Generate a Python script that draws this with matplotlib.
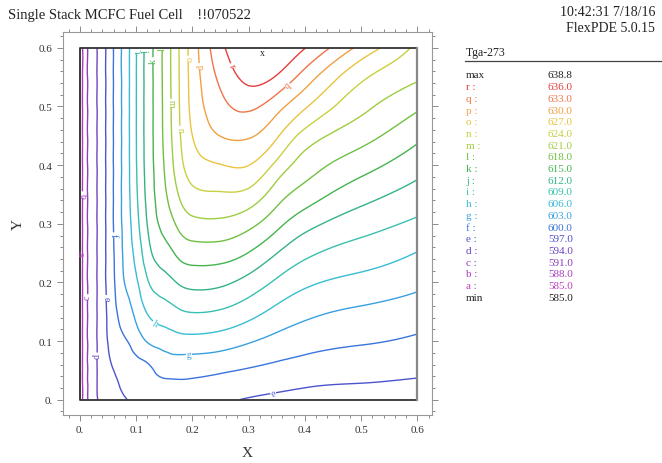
import numpy as np
import matplotlib
matplotlib.use("Agg")
import matplotlib.pyplot as plt
import matplotlib.tri as mtri
from matplotlib.lines import Line2D
from matplotlib.ticker import MultipleLocator, FuncFormatter

plt.rcParams['font.family'] = ['Liberation Serif', 'DejaVu Serif']

# grid nodes (m) and Tga-273 values, rows = y, cols = x
x_nodes = [0.0, 0.005, 0.015, 0.03, 0.045, 0.06, 0.08, 0.1, 0.125, 0.15,
           0.175, 0.2, 0.25, 0.3, 0.35, 0.4, 0.5, 0.6]
y_nodes = [0.0, 0.03, 0.06, 0.1, 0.15, 0.2, 0.25, 0.3, 0.35, 0.4, 0.45,
           0.5, 0.55, 0.6]
tga = [
    [584.8, 588.2, 591.2, 593.8, 595.0, 595.8, 596.8, 597.7, 598.6, 598.9, 599.0, 598.8, 597.6, 596.8, 596.3, 595.9, 595.2, 594.5],
    [584.8, 588.2, 591.2, 593.9, 595.5, 596.4, 597.8, 598.5, 599.3, 599.7, 599.8, 599.7, 599.1, 598.5, 598.0, 597.5, 597.1, 596.6],
    [584.8, 588.2, 591.2, 593.9, 596.0, 597.3, 598.6, 599.2, 600.1, 601.4, 601.6, 601.5, 601.1, 600.4, 599.7, 599.1, 598.5, 598.0],
    [584.8, 588.2, 591.2, 593.9, 596.4, 598.3, 599.7, 601.4, 603.5, 604.3, 604.9, 605.0, 604.5, 603.3, 602.1, 601.2, 600.3, 599.5],
    [584.8, 588.2, 591.2, 593.9, 596.6, 599.1, 601.5, 603.8, 606.6, 607.6, 608.6, 609.1, 608.7, 607.2, 605.2, 603.8, 602.5, 601.6],
    [584.8, 588.2, 591.2, 593.9, 596.8, 599.6, 603.1, 605.5, 609.3, 610.8, 612.2, 612.9, 612.6, 610.9, 608.5, 606.6, 605.1, 603.7],
    [584.8, 588.2, 591.2, 593.9, 596.8, 599.85, 603.7, 606.9, 611.6, 613.7, 615.6, 616.5, 616.4, 614.9, 612.05, 609.7, 607.6, 605.9],
    [584.8, 588.2, 591.2, 593.9, 596.8, 600.1, 604.0, 607.9, 613.0, 616.0, 618.6, 620.1, 620.3, 618.9, 615.9, 613.1, 610.3, 608.4],
    [584.8, 588.2, 591.2, 593.9, 596.8, 600.1, 604.2, 608.5, 613.7, 617.4, 621.0, 623.2, 623.7, 623.1, 619.4, 616.7, 613.2, 610.8],
    [584.8, 588.2, 591.2, 593.9, 596.8, 600.1, 604.2, 608.8, 614.0, 618.1, 622.6, 625.5, 626.9, 627.05, 623.2, 619.6, 616.2, 613.2],
    [584.8, 588.2, 591.2, 593.9, 596.8, 600.1, 604.2, 608.9, 614.1, 618.5, 623.3, 627.0, 630.05, 630.3, 627.4, 622.9, 619.1, 615.7],
    [584.8, 588.2, 591.2, 593.9, 596.8, 600.1, 604.2, 608.9, 614.1, 618.6, 623.6, 627.8, 632.1, 633.6, 631.1, 627.4, 621.8, 618.5],
    [584.8, 588.2, 591.2, 593.9, 596.8, 600.1, 604.2, 608.9, 614.1, 618.7, 623.7, 628.1, 633.7, 636.8, 635.7, 631.7, 624.6, 621.4],
    [584.8, 588.2, 591.2, 593.9, 596.8, 600.1, 604.2, 608.9, 614.1, 618.7, 623.8, 628.3, 635.2, 638.6, 638.7, 636.1, 629.1, 623.3],
]

level_names = ['a', 'b', 'c', 'd', 'e', 'f', 'g', 'h', 'i', 'j', 'k', 'l',
               'm', 'n', 'o', 'p', 'q', 'r']
level_values = [585.0, 588.0, 591.0, 594.0, 597.0, 600.0, 603.0, 606.0,
                609.0, 612.0, 615.0, 618.0, 621.0, 624.0, 627.0, 630.0,
                633.0, 636.0]
level_colors = ['#c040c0', '#a840c0', '#8c40c0', '#6c44c0', '#4c54cc',
                '#3a74dc', '#38a0e0', '#38bcd4', '#38c0b0', '#34b484',
                '#44b450', '#70c040', '#a0cc40', '#c8d040', '#e8c440',
                '#f0a040', '#f07448', '#e83c3c']
t_max = 638.8
t_min = 585.0

fig = plt.figure(figsize=(6.62, 4.64), dpi=100)
ax = fig.add_axes([63 / 662, 1 - 416 / 464, 369 / 662, 383 / 464])

# triangulate the node grid, then smooth with matplotlib's refiner
X, Y = np.meshgrid(x_nodes, y_nodes)
Z = np.array(tga)
nx, ny = len(x_nodes), len(y_nodes)
tris = []
for j in range(ny - 1):
    for i in range(nx - 1):
        p = j * nx + i
        tris.append([p, p + 1, p + nx + 1])
        tris.append([p, p + nx + 1, p + nx])
tri = mtri.Triangulation(X.ravel(), Y.ravel(), np.array(tris))
refiner = mtri.UniformTriRefiner(tri)
tri_f, z_f = refiner.refine_field(Z.ravel(), subdiv=3)

cs = ax.tricontour(tri_f, z_f, levels=level_values, colors=level_colors,
                   linewidths=1.0)
ax.clabel(cs, fmt=dict(zip(level_values, level_names)), fontsize=7,
          inline=True, inline_spacing=1)

k = np.argmax(z_f)
ax.text(tri_f.x[k], tri_f.y[k], 'x', ha='center', va='top', fontsize=7,
        color='#222222')

# domain outline
x0, x1 = x_nodes[0], x_nodes[-1]
y0, y1 = y_nodes[0], y_nodes[-1]
ax.plot([x1, x0, x0, x1], [y1, y1, y0, y0], color='#333333', lw=1.3)
ax.plot([x1, x1], [y0, y1], color='#888888', lw=1.6)

ax.set_xlim(-0.030, 0.626)
ax.set_ylim(-0.026, 0.627)
ax.xaxis.set_major_locator(MultipleLocator(0.1))
ax.yaxis.set_major_locator(MultipleLocator(0.1))
ax.xaxis.set_minor_locator(MultipleLocator(0.02))
ax.yaxis.set_minor_locator(MultipleLocator(0.02))
fmt = FuncFormatter(lambda v, pos: '0.' if abs(v) < 1e-9 else '%.1f' % v)
ax.xaxis.set_major_formatter(fmt)
ax.yaxis.set_major_formatter(fmt)
ax.tick_params(which='both', direction='out', top=True, right=True,
               colors='#777777', labelcolor='#333333', labelsize=8, width=0.6)
ax.tick_params(which='major', length=4)
ax.tick_params(which='minor', length=2)
for s in ax.spines.values():
    s.set_color('#999999')
    s.set_linewidth(0.8)
ax.set_xlabel('X', fontsize=11, labelpad=8, color='#333333')
ax.set_ylabel('Y', fontsize=11, labelpad=10, color='#333333')

# header texts
fig.text(8 / 662, 1 - 16 / 464, 'Single Stack MCFC Fuel Cell    !!070522',
         fontsize=10.5, va='center', ha='left', color='#222222')
fig.text(655 / 662, 1 - 13 / 464, '10:42:31 7/18/16', fontsize=10,
         va='center', ha='right', color='#222222')
fig.text(655 / 662, 1 - 28 / 464, 'FlexPDE 5.0.15', fontsize=10,
         va='center', ha='right', color='#222222')

# level legend
fig.text(466 / 662, 1 - 53 / 464, 'Tga-273', fontsize=8.5, va='center',
         color='#222222')
fig.add_artist(Line2D([465 / 662, 1.0], [1 - 62 / 464] * 2, color='#444444',
                      lw=0.9))
rows = [('max', t_max, '#222222')]
for name, val, col in zip(level_names[::-1], level_values[::-1],
                          level_colors[::-1]):
    rows.append((name + ' :', val, col))
rows.append(('min', t_min, '#222222'))
for n, (name, val, col) in enumerate(rows):
    yy = 1 - (76 + n * 11.7) / 464
    fig.text(466 / 662, yy, name, fontsize=8, va='center', color=col)
    fig.text(548 / 662, yy, '%.1f' % val, fontsize=8, va='center', color=col)

fig.savefig('out.png', dpi=100)
